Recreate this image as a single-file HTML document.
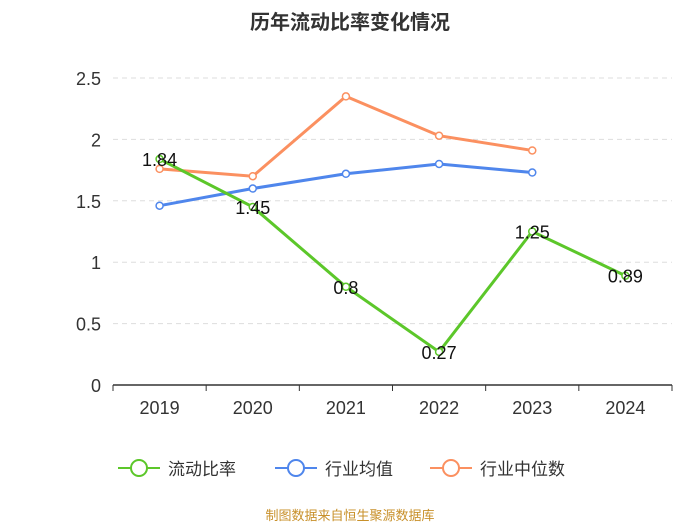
<!DOCTYPE html>
<html><head><meta charset="utf-8"><style>
body{margin:0;background:#fff;font-family:"Liberation Sans","Noto Sans CJK SC",sans-serif}
svg text{font-family:"Liberation Sans","Noto Sans CJK SC",sans-serif}
</style></head><body>
<svg id="c" width="700" height="525" xmlns="http://www.w3.org/2000/svg">
<text x="350" y="29" text-anchor="middle" font-size="20" font-weight="bold" fill="#333">历年流动比率变化情况</text>
<g id="grid"></g><g id="axes"></g><g id="series"></g>
<g>
<g><line x1="118" y1="468" x2="160" y2="468" stroke="#5cc72a" stroke-width="2"/><circle cx="139" cy="468" r="8" fill="#fff" stroke="#5cc72a" stroke-width="2"/><text x="168" y="475" font-size="17" fill="#333">流动比率</text></g>
<g><line x1="275" y1="468" x2="317" y2="468" stroke="#4f86ec" stroke-width="2"/><circle cx="296" cy="468" r="8" fill="#fff" stroke="#4f86ec" stroke-width="2"/><text x="325" y="475" font-size="17" fill="#333">行业均值</text></g>
<g><line x1="430" y1="468" x2="472" y2="468" stroke="#fb9060" stroke-width="2"/><circle cx="451" cy="468" r="8" fill="#fff" stroke="#fb9060" stroke-width="2"/><text x="480" y="475" font-size="17" fill="#333">行业中位数</text></g>
</g>
<text x="350" y="520" text-anchor="middle" font-size="13" fill="#c8902a">制图数据来自恒生聚源数据库</text>
</svg>
<script>
const categories=["2019","2020","2021","2022","2023","2024"];
const currentRatio=[1.84,1.45,0.8,0.27,1.25,0.89];
const industryAvg=[1.46,1.6,1.72,1.8,1.73];
const industryMedian=[1.76,1.7,2.35,2.03,1.91];
const yTicks=[0,0.5,1,1.5,2,2.5];
const NS="http://www.w3.org/2000/svg";
const L=113,R=672,T=78,B=385,yMax=2.5;
const bw=(R-L)/categories.length;
const xS=i=>L+bw*(i+0.5);
const yS=v=>B-(v/yMax)*(B-T);
function mk(tag,attrs,parent){const e=document.createElementNS(NS,tag);for(const k in attrs)e.setAttribute(k,attrs[k]);parent.appendChild(e);return e;}
const grid=document.getElementById('grid'),axes=document.getElementById('axes'),ser=document.getElementById('series');
yTicks.forEach(v=>{
 if(v>0){const g=mk('line',{x1:L,x2:R,y1:yS(v),y2:yS(v),stroke:'#ddd','stroke-dasharray':'5,4'},grid);
 
 }
 const t=mk('text',{x:L-12,y:yS(v)+7,'text-anchor':'end','font-size':'18',fill:'#333'},axes);t.textContent=v;
 
 
});
const ax=mk('line',{x1:L,x2:R,y1:B,y2:B,stroke:'#333','stroke-width':1.5},axes);


for(let i=0;i<=categories.length;i++){const tk=mk('line',{x1:L+bw*i,x2:L+bw*i,y1:B,y2:B+6,stroke:'#333'},axes);
 
 }
categories.forEach((c,i)=>{const t=mk('text',{x:xS(i),y:B+29,'text-anchor':'middle','font-size':'18',fill:'#333'},axes);t.textContent=c;
 
 });
function line(data,color,name,labels){
 const g=mk('g',{},ser);
 
 
 const p=mk('polyline',{points:data.map((v,i)=>xS(i)+','+yS(v)).join(' '),fill:'none',stroke:color,'stroke-width':3},g);
 
 
 data.forEach((v,i)=>{const c=mk('circle',{cx:xS(i),cy:yS(v),r:3.5,fill:'#fff',stroke:color,'stroke-width':1.5},g);
  
  
  if(labels){const t=mk('text',{x:xS(i),y:yS(v)+7,'text-anchor':'middle','font-size':'18',fill:'#111'},g);t.textContent=v;
   
   }
 });
}
line(industryAvg,'#4f86ec','industry-average-series',false);
line(industryMedian,'#fb9060','industry-median-series',false);
line(currentRatio,'#5cc72a','current-ratio-series',true);
</script>
</body></html>
